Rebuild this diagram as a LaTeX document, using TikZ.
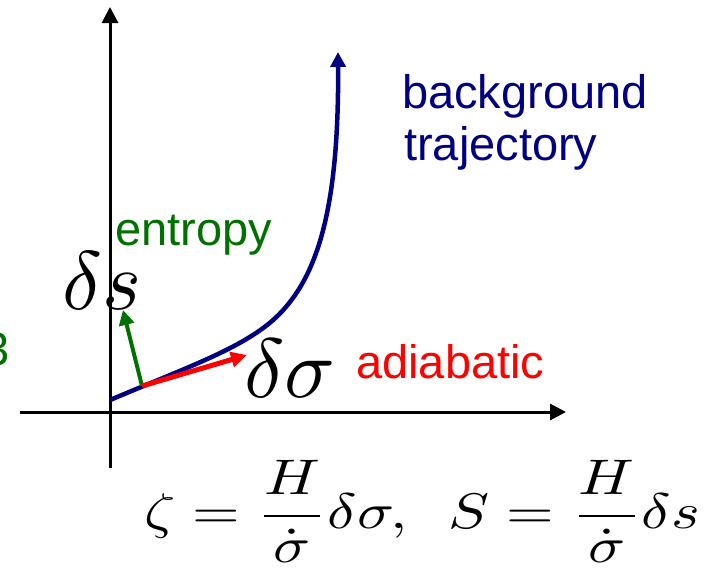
\documentclass[tikz,border=0pt]{standalone}
\usepackage{fontspec}
\usepackage{graphicx}
\newfontfamily\arialf{Liberation Sans}
\usetikzlibrary{arrows.meta}
\definecolor{navyc}{RGB}{0,0,128}
\definecolor{greenc}{RGB}{0,112,0}
\definecolor{redc}{RGB}{255,0,0}
\tikzset{
  lbl/.style={font=\arialf\fontsize{47}{52}\selectfont, inner sep=0pt, anchor=base west},
  bigmath/.style={inner sep=0pt, anchor=base west},
  axisline/.style={line width=3pt, black, -{Triangle[width=16pt,length=16pt]}},
  trajline/.style={navyc, line width=4.5pt, -{Triangle[width=15pt,length=15pt]}},
  entarrow/.style={greenc, line width=4pt, -{Triangle[width=15pt,length=15pt]}},
  adiarrow/.style={redc, line width=5pt, -{Triangle[width=15pt,length=16pt]}},
}
\begin{document}
\begin{tikzpicture}[x=1pt,y=-1pt]
\useasboundingbox (0,0) rectangle (715,571);
\clip (0,0) rectangle (715,571);
% axes
\coordinate (ybot) at (110,468);
\coordinate (ytop) at (110,7);
\coordinate (xl) at (20,412);
\coordinate (xr) at (566,412);
\draw[axisline] (ybot) -- (ytop);
\draw[axisline] (xl) -- (xr);
% background trajectory
\coordinate (t0) at (110,400);
\coordinate (t1) at (285,308);
\coordinate (t2) at (338,52);
\draw[trajline] (t0) .. controls (200,362) and (254,344) .. (t1)
                     .. controls (320,268) and (339,200) .. (t2);
% perturbation arrows
\coordinate (o) at (142,386);
\coordinate (stip) at (123,310);
\coordinate (sigtip) at (247,355);
\draw[entarrow] (o) -- (stip);
\draw[adiarrow] (o) -- (sigtip);
% labels
\node[bigmath] (ds) at (62,309) {\scalebox{8.3}{$\delta s$}};
\node[bigmath] (dsig) at (244,397) {\scalebox{8.4}{$\delta\sigma$}};
\node[lbl, text=greenc] (entropy) at (115,245) {entropy};
\node[lbl, text=redc] (adiabatic) at (356,378) {adiabatic};
\node[lbl, text=navyc] (bg1) at (402,108) {background};
\node[lbl, text=navyc] (bg2) at (404,160) {trajectory};
\node[lbl, text=greenc, anchor=base east] (cut) at (10.3,365) {3};
% equation
\node[inner sep=0pt, anchor=base west] (eq) at (144,528) {\scalebox{6.12}[5.0]{$\displaystyle \zeta = \frac{H}{\dot\sigma}\delta\sigma,\mkern9mu S = \frac{H}{\dot\sigma}\delta s$}};
\end{tikzpicture}
\end{document}
